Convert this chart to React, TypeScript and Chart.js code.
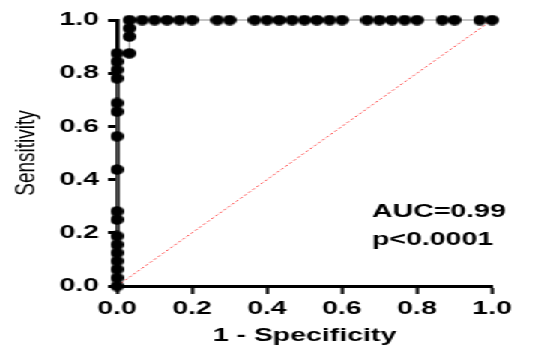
import React, { useEffect, useRef } from 'react';
import { Chart, registerables } from 'chart.js';

Chart.register(...registerables);

// ROC curve points (1 - specificity, sensitivity)
const fpr = [
  0, 0, 0, 0, 0, 0, 0, 0, 0, 0, 0, 0, 0, 0, 0, 0, 0,
  0.033, 0.033, 0.033, 0.033,
  0.067, 0.1, 0.133, 0.167, 0.2,
  0.267, 0.3,
  0.367, 0.4, 0.433, 0.467, 0.5, 0.533, 0.567, 0.6,
  0.667, 0.7, 0.733, 0.767, 0.8,
  0.867, 0.9,
  0.967, 1.0,
];
const tpr = [
  0, 0.031, 0.063, 0.094, 0.125, 0.156, 0.188, 0.25, 0.281, 0.438, 0.563, 0.656, 0.688, 0.781, 0.813, 0.844, 0.875,
  0.875, 0.938, 0.969, 1.0,
  1.0, 1.0, 1.0, 1.0, 1.0,
  1.0, 1.0,
  1.0, 1.0, 1.0, 1.0, 1.0, 1.0, 1.0, 1.0,
  1.0, 1.0, 1.0, 1.0, 1.0,
  1.0, 1.0,
  1.0, 1.0,
];
// reference (chance) line
const diagX = [0, 1];
const diagY = [0, 1];

const xTitle = '1 - Specificity';
const yTitle = 'Sensitivity';
const aucLabel = 'AUC=0.99';
const pLabel = 'p<0.0001';

const FAMILY = '"Liberation Sans", Arial, Helvetica, sans-serif';
const STRETCH = 535 / 357;

export default function App() {
  const ref = useRef<HTMLCanvasElement | null>(null);

  useEffect(() => {
    if (!ref.current) return;
    const dot = document.createElement('canvas');
    dot.width = 9;
    dot.height = 11;
    const dc = dot.getContext('2d')!;
    dc.fillStyle = '#000';
    dc.beginPath();
    dc.ellipse(4.5, 5.5, 4.5, 5.3, 0, 0, Math.PI * 2);
    dc.fill();

    const annot = {
      id: 'annot',
      afterDatasetsDraw(chart: any) {
        const { ctx, scales } = chart;
        const x = scales.x;
        const y = scales.y;
        ctx.save();
        ctx.font = `bold 19px ${FAMILY}`;
        ctx.fillStyle = '#000';
        ctx.textAlign = 'left';
        ctx.textBaseline = 'middle';
        ctx.fillText(aucLabel, x.getPixelForValue(0.68), y.getPixelForValue(0.278));
        ctx.fillText(pLabel, x.getPixelForValue(0.68), y.getPixelForValue(0.173));
        ctx.restore();
      },
    };

    const chart = new Chart(ref.current, {
      type: 'scatter',
      data: {
        datasets: [
          {
            data: fpr.map((v, i) => ({ x: v, y: tpr[i] })),
            showLine: true,
            borderColor: '#8a8a8a',
            borderWidth: 1,
            pointStyle: dot as any,
            pointRadius: 5,
            pointBackgroundColor: '#000',
            pointBorderWidth: 0,
            clip: false as any,
            order: 0,
          },
          {
            data: diagX.map((v, i) => ({ x: v, y: diagY[i] })),
            showLine: true,
            borderColor: '#ff4040',
            borderWidth: 1,
            borderDash: [2, 2],
            pointRadius: 0,
            clip: false as any,
            order: 1,
          },
        ],
      },
      options: {
        animation: false,
        responsive: true,
        maintainAspectRatio: false,
        events: [],
        layout: { padding: { left: 0, right: 28.7, top: 20, bottom: 0 } },
        plugins: { legend: { display: false }, tooltip: { enabled: false } },
        scales: {
          x: {
            type: 'linear',
            min: 0,
            max: 1,
            z: 1,
            afterFit: (s: any) => { s.height = 61; },
            ticks: {
              stepSize: 0.2,
              callback: (v: any) => Number(v).toFixed(1),
              font: { family: FAMILY, size: 19, weight: 'bold' },
              color: '#000',
              padding: 3,
              maxRotation: 0,
              autoSkip: false,
            },
            grid: { drawOnChartArea: false, drawTicks: true, tickLength: 8, tickWidth: 2.2, tickColor: '#000' },
            border: { display: true, color: '#000', width: 3 },
            title: {
              display: true,
              text: xTitle,
              font: { family: FAMILY, size: 19, weight: 'bold' },
              color: '#000',
              padding: { top: 0, bottom: 0 },
            },
          },
          y: {
            type: 'linear',
            min: 0,
            max: 1,
            z: 1,
            afterFit: (s: any) => { s.width = 78.1; },
            ticks: {
              stepSize: 0.2,
              callback: (v: any) => Number(v).toFixed(1),
              font: { family: FAMILY, size: 19, weight: 'bold' },
              color: '#000',
              padding: 6,
            },
            grid: { drawOnChartArea: false, drawTicks: true, tickLength: 6, tickWidth: 3, tickColor: '#000' },
            border: { display: true, color: '#000', width: 2.8 },
            title: {
              display: true,
              text: yTitle,
              font: { family: FAMILY, size: 19, weight: 'normal' },
              color: '#000',
              padding: { top: 6, bottom: 0 },
            },
          },
        },
      },
      plugins: [annot],
    });
    return () => chart.destroy();
  }, []);

  return (
    <div
      style={{
        position: 'absolute',
        left: 0,
        top: 0,
        width: 357,
        height: 347,
        transform: `scaleX(${STRETCH})`,
        transformOrigin: '0 0',
        background: '#fff',
      }}
    >
      <canvas ref={ref} />
    </div>
  );
}
